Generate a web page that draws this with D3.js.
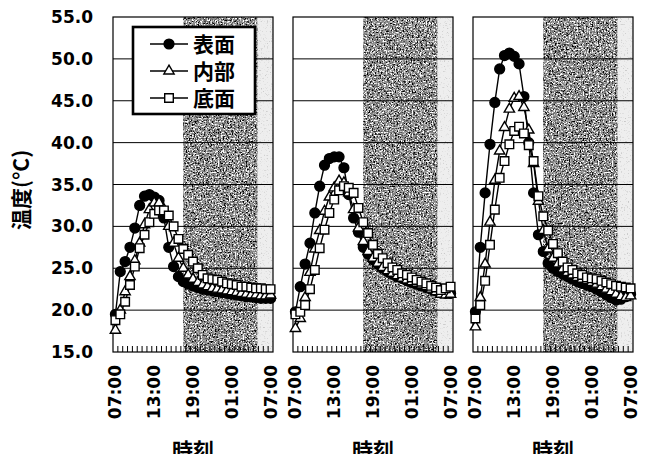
<!DOCTYPE html>
<html>
<head>
<meta charset="utf-8">
<script src="https://cdnjs.cloudflare.com/ajax/libs/d3/7.8.5/d3.min.js"></script>
<style>
  html, body { margin: 0; padding: 0; background: #fff; }
  svg { display: block; }
</style>
</head>
<body>
<svg id="chart" width="650" height="454"></svg>
<script>
// Measurement times (every 45 minutes, 07:00 to 07:00 next day)
const times = ["07:00","07:45","08:30","09:15","10:00","10:45","11:30","12:15","13:00",
  "13:45","14:30","15:15","16:00","16:45","17:30","18:15","19:00","19:45","20:30",
  "21:15","22:00","22:45","23:30","00:15","01:00","01:45","02:30","03:15","04:00",
  "04:45","05:30","06:15","07:00"];
const tickLabels = ["07:00","13:00","19:00","01:00","07:00"];
const nightSpan = ["17:30","05:00"];
const yTicks = [15, 20, 25, 30, 35, 40, 45, 50, 55];
const seriesNames = ["表面", "内部", "底面"];

// Panel 1
const surface1 = [19.5,24.6,25.8,27.5,29.8,32.5,33.6,33.8,33.5,33.1,31.0,27.5,25.2,24.0,23.4,23.1,
  22.9,22.7,22.5,22.4,22.3,22.2,22.1,22.0,21.9,21.8,21.7,21.6,21.6,21.5,21.4,21.4,21.4];
const inner1 = [17.6,20.0,22.2,24.0,25.9,28.0,30.2,32.0,32.8,32.8,32.0,30.0,28.0,26.2,25.0,24.2,
  23.7,23.3,23.0,22.8,22.6,22.5,22.4,22.3,22.2,22.1,22.0,21.9,21.8,21.8,21.7,21.7,21.8];
const bottom1 = [18.8,19.5,21.0,23.0,25.2,27.4,29.0,30.5,31.5,31.9,31.9,31.3,30.0,28.5,27.3,26.6,
  25.8,25.0,24.2,23.8,23.7,23.6,23.4,23.2,23.1,23.0,22.8,22.8,22.7,22.6,22.6,22.5,22.5];

// Panel 2
const surface2 = [19.8,22.8,25.5,28.0,31.6,34.8,37.3,38.1,38.3,38.3,37.0,33.8,31.0,29.3,27.5,26.7,
  26.0,25.5,25.0,24.6,24.3,24.0,23.8,23.5,23.3,23.1,22.9,22.7,22.5,22.3,22.1,22.0,22.0];
const inner2 = [17.8,19.0,21.5,24.5,27.3,29.5,31.8,33.5,34.6,35.4,35.2,34.0,32.0,29.8,28.2,27.0,
  26.2,25.6,25.1,24.7,24.4,24.1,23.8,23.6,23.4,23.2,23.0,22.8,22.5,22.2,21.9,21.8,21.9];
const bottom2 = [19.5,19.8,20.6,22.5,24.8,27.4,29.6,31.6,33.2,34.3,34.8,34.6,34.0,32.2,30.5,29.2,
  27.8,26.7,26.2,25.6,25.1,24.8,24.4,24.2,23.9,23.6,23.4,23.2,22.9,22.7,22.4,22.6,22.8];

// Panel 3
const surface3 = [19.8,27.5,34.0,39.8,44.8,48.8,50.4,50.7,50.3,49.4,45.5,40.0,34.0,29.0,27.0,25.6,
  25.0,24.6,24.3,24.0,23.7,23.4,23.2,23.0,22.8,22.5,22.2,21.8,21.5,21.2,21.3,21.6,21.9];
const inner3 = [18.0,21.5,25.5,30.5,35.5,39.0,41.8,44.0,45.3,45.5,44.2,41.5,37.5,33.0,29.5,27.3,
  26.2,25.5,24.9,24.5,24.2,23.9,23.7,23.5,23.3,23.1,22.8,22.5,22.2,21.9,21.6,21.5,21.7];
const bottom3 = [19.0,20.6,23.5,27.8,32.0,35.8,37.8,39.8,41.4,41.9,41.1,39.7,37.8,33.6,31.2,29.5,
  27.9,26.8,25.8,25.1,24.8,24.4,24.2,23.9,23.8,23.7,23.5,23.3,23.1,22.9,22.8,22.7,22.6];

const panels = [
  [surface1, inner1, bottom1],
  [surface2, inner2, bottom2],
  [surface3, inner3, bottom3]
];

// Clock strings -> hours elapsed since the first 07:00, rolling past midnight
function clock(s) { const [h, m] = s.split(":").map(Number); return h + m / 60; }
function elapsed(list) {
  let off = 0, prev = -Infinity;
  return list.map(s => {
    let v = clock(s) - 7 + off;
    if (v < prev) { off += 24; v += 24; }
    prev = v;
    return v;
  });
}
const hours = elapsed(times);
const tickHours = elapsed(tickLabels);
const night = elapsed(nightSpan);
const step = hours[1] - hours[0];

const svg = d3.select("#chart");
const plotTop = 17, plotBottom = 352, panelW = 160;
const panelX = [113, 293, 473];

const y = d3.scaleLinear().domain([15, 55]).range([plotBottom, plotTop]);

// Speckle filters for the shaded night / dawn bands
const defs = svg.append("defs");
function speckle(id, seed, freq, rgb, a, b) {
  const f = defs.append("filter").attr("id", id)
    .attr("x", 0).attr("y", 0).attr("width", 1).attr("height", 1);
  f.append("feTurbulence").attr("type", "fractalNoise")
    .attr("baseFrequency", freq).attr("numOctaves", 2).attr("seed", seed).attr("result", "n");
  f.append("feColorMatrix").attr("in", "n").attr("type", "matrix")
    .attr("values", `0 0 0 0 ${rgb} 0 0 0 0 ${rgb} 0 0 0 0 ${rgb} ${a} 0 0 0 ${b}`)
    .attr("result", "dots");
  f.append("feComposite").attr("in", "dots").attr("in2", "SourceGraphic").attr("operator", "in");
}
speckle("darkDots", 3, 0.65, 0, -5, 2.55);
speckle("lightDots", 11, 0.65, 1, 5, -2.45);
speckle("dawnDots", 5, 0.7, 0.55, -4, 1.6);

const symbolTypes = [d3.symbolCircle, d3.symbolTriangle, d3.symbolSquare];
const symbolSizes = [76, 46, 74];
const fills = ["#000", "#fff", "#fff"];

panels.forEach((series, p) => {
  const L = panelX[p];
  const x = d3.scaleLinear()
    .domain([hours[0] - step / 2, hours[hours.length - 1] + step / 2])
    .range([L, L + panelW]);
  const g = svg.append("g");
  const h = plotBottom - plotTop;

  // night band
  const nx0 = x(night[0]), nx1 = x(night[1]);
  g.append("rect").attr("x", nx0).attr("y", plotTop).attr("width", nx1 - nx0)
    .attr("height", h).attr("fill", "#8a8a8a");
  g.append("rect").attr("x", nx0).attr("y", plotTop).attr("width", nx1 - nx0)
    .attr("height", h).attr("fill", "#000").attr("filter", "url(#darkDots)");
  g.append("rect").attr("x", nx0).attr("y", plotTop).attr("width", nx1 - nx0)
    .attr("height", h).attr("fill", "#000").attr("filter", "url(#lightDots)");
  // dawn band up to the panel edge
  const dx1 = x.range()[1];
  g.append("rect").attr("x", nx1).attr("y", plotTop).attr("width", dx1 - nx1)
    .attr("height", h).attr("fill", "#eeeeee");
  g.append("rect").attr("x", nx1).attr("y", plotTop).attr("width", dx1 - nx1)
    .attr("height", h).attr("fill", "#000").attr("filter", "url(#dawnDots)");

  // horizontal gridlines
  g.selectAll(".grid").data(yTicks.slice(1, -1)).join("line")
    .attr("x1", L).attr("x2", L + panelW)
    .attr("y1", d => y(d)).attr("y2", d => y(d))
    .attr("stroke", "#000").attr("stroke-width", 1);

  // panel frame
  g.append("rect").attr("x", L).attr("y", plotTop).attr("width", panelW)
    .attr("height", h).attr("fill", "none")
    .attr("stroke", "#000").attr("stroke-width", 1.2);

  // inward minor ticks at category boundaries
  const bounds = hours.slice(1).map(v => v - step / 2);
  g.selectAll(".mtick").data(bounds).join("line")
    .attr("x1", d => x(d)).attr("x2", d => x(d))
    .attr("y1", plotBottom).attr("y2", plotBottom - 6)
    .attr("stroke", "#000").attr("stroke-width", 1);

  // x tick labels
  tickHours.forEach((hh, i) => {
    g.append("text")
      .attr("transform", `translate(${x(hh) + 6},365) rotate(-90)`)
      .attr("text-anchor", "end")
      .attr("font-family", "DejaVu Sans")
      .attr("font-weight", "bold")
      .attr("font-size", 17)
      .text(tickLabels[i]);
  });

  // axis title
  g.append("text").attr("x", L + panelW / 2).attr("y", 458)
    .attr("text-anchor", "middle")
    .attr("font-family", "Noto Sans CJK JP").attr("font-weight", "bold")
    .attr("font-size", 21).text("時刻");

  // series: lines then markers
  series.forEach((vals) => {
    const line = d3.line().x((d, i) => x(hours[i])).y(d => y(d));
    g.append("path").datum(vals).attr("d", line)
      .attr("fill", "none").attr("stroke", "#000").attr("stroke-width", 1.4);
  });
  series.forEach((vals, s) => {
    const sym = d3.symbol().type(symbolTypes[s]).size(symbolSizes[s]);
    g.selectAll(null).data(vals).join("path")
      .attr("d", sym)
      .attr("transform", (d, i) => `translate(${x(hours[i])},${y(d)})`)
      .attr("fill", fills[s]).attr("stroke", "#000").attr("stroke-width", 1.4);
  });
});

// y axis labels
svg.append("g").selectAll("text").data(yTicks).join("text")
  .attr("x", 93).attr("y", d => y(d))
  .attr("dy", "0.36em")
  .attr("text-anchor", "end")
  .attr("font-family", "DejaVu Sans").attr("font-weight", "bold")
  .attr("font-size", 17)
  .text(d => d.toFixed(1));

svg.append("text")
  .attr("transform", "translate(29,190) rotate(-90)")
  .attr("text-anchor", "middle")
  .attr("font-family", "Noto Sans CJK JP").attr("font-weight", "bold")
  .attr("font-size", 21).text("温度(°C)");

// legend
const lg = svg.append("g");
lg.append("rect").attr("x", 133).attr("y", 27).attr("width", 122).attr("height", 87)
  .attr("fill", "#fff").attr("stroke", "#000").attr("stroke-width", 2.6);
seriesNames.forEach((name, s) => {
  const cy = 44 + s * 27;
  lg.append("line").attr("x1", 150).attr("x2", 188).attr("y1", cy).attr("y2", cy)
    .attr("stroke", "#000").attr("stroke-width", 1.4);
  lg.append("path").attr("d", d3.symbol().type(symbolTypes[s]).size(symbolSizes[s])())
    .attr("transform", `translate(169,${cy})`)
    .attr("fill", fills[s]).attr("stroke", "#000").attr("stroke-width", 1.4);
  lg.append("text").attr("x", 193).attr("y", cy).attr("dy", "0.36em")
    .attr("font-family", "Noto Sans CJK JP").attr("font-weight", "bold")
    .attr("font-size", 21).text(name);
});
</script>
</body>
</html>
